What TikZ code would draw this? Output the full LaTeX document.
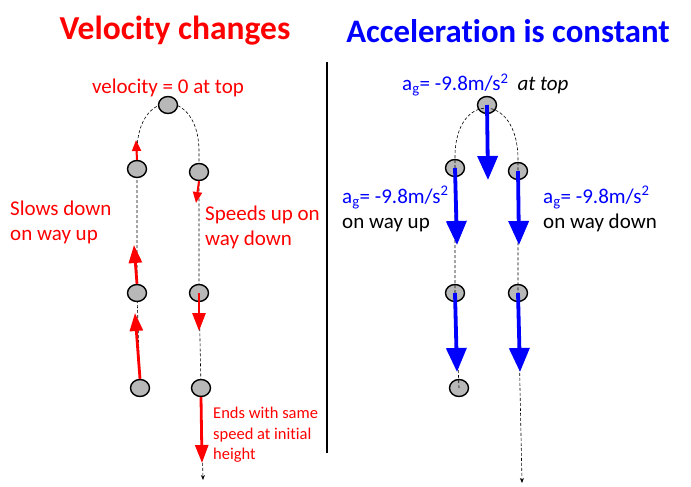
\documentclass[tikz,border=0pt]{standalone}
\usepackage{fontspec}
\setmainfont{Carlito}[Ligatures=NoCommon]
\usepackage{tikz}
\usetikzlibrary{arrows.meta, positioning, shapes.geometric}

\begin{document}
\begin{tikzpicture}[
      x=1pt, y=-1pt,
      title/.style={font=\fontsize{33.5}{38}\selectfont\bfseries, inner sep=0pt},
      label/.style={font=\fontsize{21}{25}\selectfont, inner sep=0pt, align=left},
      note/.style={font=\fontsize{16.5}{20.5}\selectfont, inner sep=0pt, align=left, text=red},
      ball/.style={ellipse, draw=black, line width=1.4pt, fill=black!28, minimum width=19pt, minimum height=17pt, inner sep=0pt},
      track/.style={dashed, line width=0.6pt, dash pattern=on 3pt off 2pt},
      vsmall/.style={draw=red, line width=2pt, -{Triangle[length=11pt, width=9pt]}},
      vbig/.style={draw=red, line width=2.8pt, -{Triangle[length=18pt, width=13pt]}},
      accel/.style={draw=blue, line width=3.8pt, -{Triangle[length=24pt, width=20pt]}}
    ]
    \useasboundingbox (0,0) rectangle (691,487);

    % headings and divider
    \node[title, text=red] (vtitle) at (175,31) {Velocity changes};
    \node[title, text=blue, font=\fontsize{32.8}{38}\selectfont\bfseries] (atitle) at (508,31) {Acceleration is constant};
    \coordinate (divtop) at (327,62);
    \coordinate (divbot) at (327,453);
    \draw[line width=1.2pt] (divtop) -- (divbot);

    % left: velocity
    \coordinate (lup1) at (140,388);
    \coordinate (lup2) at (137,293);
    \coordinate (lup3) at (137,169);
    \coordinate (ltop) at (168,105);
    \coordinate (ldn3) at (199,172);
    \coordinate (ldn2) at (199,293);
    \coordinate (ldn1) at (201,388);
    \coordinate (lend) at (203,480);
    \draw[track] (lup1) -- (lup2) -- (lup3) -- (137,150)
      .. controls (138,88) and (198,88) .. (199,150) -- (ldn3) -- (ldn2) -- (ldn1);
    \draw[track, -{Stealth[length=5pt, width=4pt]}] (ldn1) -- (lend);
    \node[ball] (bl1) at (lup1) {};
    \node[ball] (bl2) at (lup2) {};
    \node[ball] (bl3) at (lup3) {};
    \node[ball] (blt) at (ltop) {};
    \node[ball] (br3) at (ldn3) {};
    \node[ball] (br2) at (ldn2) {};
    \node[ball] (br1) at (ldn1) {};

    \coordinate (vup3) at (136,140);
    \coordinate (vup2) at (134,245);
    \coordinate (vup1) at (135,313);
    \coordinate (vdn3) at (196,203);
    \coordinate (vdn2) at (199,331);
    \coordinate (vdn1) at (202,463);
    \draw[vsmall] (bl3.north) -- (vup3);
    \draw[vbig] (bl2.north) -- (vup2);
    \draw[vbig] (bl1.north) -- (vup1);
    \draw[vsmall] (br3.south) -- (vdn3);
    \draw[vbig] (br2.center) -- (vdn2);
    \draw[vbig] (br1.south) -- (vdn1);

    \node[label, text=red] (vzero) at (168,88) {velocity = 0 at top};
    \node[label, text=red, anchor=west] (slows) at (10,222) {Slows down\\on way up};
    \node[label, text=red, anchor=west] (speeds) at (205,227) {Speeds up on\\way down};
    \node[note, anchor=west] (ends) at (213,435) {Ends with same\\speed at initial\\height};

    % right: acceleration
    \node[ball] (al1) at (459,388) {};
    \node[ball] (al2) at (455,293) {};
    \node[ball] (al3) at (455,168) {};
    \node[ball] (att) at (487,105) {};
    \node[ball] (ar3) at (518,171) {};
    \node[ball] (ar2) at (518,293) {};
    \coordinate (aend) at (522,483);
    \draw[track] (al1.center) -- (al2.center) -- (al3.center) -- (455,155)
      .. controls (456,92) and (517,92) .. (518,158) -- (ar3.center) -- (ar2.center);
    \draw[track, -{Stealth[length=5pt, width=4pt]}] (ar2.center) -- (aend);

    \coordinate (atop) at (488,180);
    \coordinate (aup3) at (457,245);
    \coordinate (adn3) at (519,245);
    \coordinate (aup2) at (457,372);
    \coordinate (adn2) at (520,372);
    \draw[accel] (att.center) -- (atop);
    \draw[accel] (al3.center) -- (aup3);
    \draw[accel] (ar3.center) -- (adn3);
    \draw[accel] (al2.center) -- (aup2);
    \draw[accel] (ar2.center) -- (adn2);

    \node[label, anchor=west] (agtop) at (402,85)
      {\textcolor{blue}{a\textsubscript{g}= -9.8m/s\textsuperscript{2}}\hspace{9pt}\textit{at top}};
    \node[label, anchor=west] (agup) at (342,209)
      {\textcolor{blue}{a\textsubscript{g}= -9.8m/s\textsuperscript{2}}\\on way up};
    \node[label, anchor=west] (agdn) at (543,209)
      {\textcolor{blue}{a\textsubscript{g}= -9.8m/s\textsuperscript{2}}\\on way down};
  \end{tikzpicture}
\end{document}
